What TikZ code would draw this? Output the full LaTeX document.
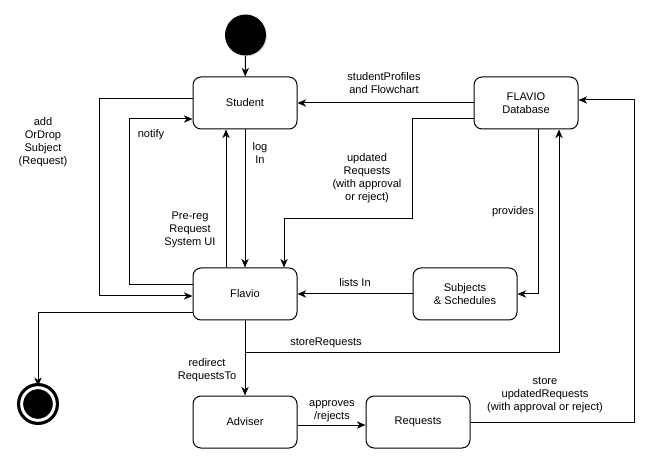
\documentclass[tikz,border=0pt]{standalone}
\usepackage{fontspec}
\setmainfont{Liberation Sans}
\usepackage{xcolor}
\usepackage{tikz}
\usetikzlibrary{calc,arrows.meta,shadows}
\definecolor{ink}{HTML}{000000}
\definecolor{paper}{HTML}{FFFFFF}
\tikzset{
  box/.style={draw=ink, rounded corners=6pt, line width=0.75pt, fill=paper,
    minimum width=78pt, minimum height=39pt, align=center},
  flow/.style={draw=ink, line width=0.75pt, -{Stealth[length=6.5pt,width=5.5pt,inset=2pt]}},
  lab/.style={align=center, inner sep=0pt},
  startpt/.style={circle, fill=ink, minimum size=30.75pt, inner sep=0pt,
    drop shadow={opacity=0.25, shadow xshift=0.8pt, shadow yshift=-0.8pt}},
  endpt/.style={circle, fill=ink, draw=ink, double=paper, double distance=2.2pt,
    line width=2.4pt, minimum size=24.5pt, inner sep=0pt,
    drop shadow={opacity=0.25, shadow xshift=1pt, shadow yshift=-1pt}},
  every node/.style={text=ink, font=\fontsize{8.3}{9.9}\selectfont}
}
\begin{document}
\begin{tikzpicture}[x=0.75pt, y=-0.75pt]
  \useasboundingbox[fill=paper] (0,0) rectangle (649,466);

  % states
  \node[startpt] (start) at (245.5,35) {};
  \node[box] (student) at (245,103) {Student};
  \node[box] (db) at (526,103) {FLAVIO\\Database};
  \node[box] (flavio) at (245,294) {Flavio};
  \node[box] (subj) at (465,294) {Subjects\\\& Schedules};
  \node[box] (adviser) at (245,422) {Adviser};
  \node[box] (requests) at (418,422) {Requests};
  \node[endpt] (stop) at (38,404) {};

  \coordinate (split) at (flavio.south |- 0,352);

  % transitions
  \draw[flow] (start) -- (student);
  \draw[flow] (student) -- (flavio);
  \draw[flow] (flavio.north -| 226,0) -- (student.south -| 226,0);
  \draw[flow] (flavio.west |- 0,285) -- (129,285) |- (student.west |- 0,119);
  \draw[flow] (student.west |- 0,99) -- (99,99) |- (flavio.west |- 0,296);
  \draw[flow] (flavio.west |- 0,313) -| (stop);
  \draw[flow] (db.west |- 0,103) -- (student.east |- 0,103);
  \draw[flow] (db.west |- 0,119) -- (412,119) |- (284,219) -- (flavio.north -| 284,0);
  \draw[flow] (db.south -| 538,0) |- (subj.east);
  \draw[flow] (subj) -- (flavio);
  \draw[flow] (flavio) -- (adviser);
  \draw[flow] (split) -| (db.south -| 559,0);
  \draw[flow] (adviser.east |- 0,425) -- (requests.west |- 0,425);
  \draw[flow] (requests) -| (634,100) -- (db.east |- 0,100);

  % labels
  \node[lab] (lAdd) at (43,142) {add\\OrDrop\\Subject\\(Request)};
  \node[lab] (lNotify) at (151,135) {notify};
  \node[lab] (lLog) at (260,153) {log\\In};
  \node[lab] (lPre) at (190,230) {Pre-reg\\Request\\System UI};
  \node[lab] (lProf) at (384,83) {studentProfiles\\and Flowchart};
  \node[lab] (lUpd) at (367,178) {updated\\Requests\\(with approval\\or reject)};
  \node[lab] (lProv) at (513,212) {provides};
  \node[lab] (lList) at (355,283) {lists In};
  \node[lab] (lStore) at (326,343) {storeRequests};
  \node[lab] (lRedir) at (207,370) {redirect\\RequestsTo};
  \node[lab] (lAppr) at (332,411) {approves\\/rejects};
  \node[lab] (lStUpd) at (545,395) {store\\updatedRequests\\(with approval or reject)};
\end{tikzpicture}
\end{document}
